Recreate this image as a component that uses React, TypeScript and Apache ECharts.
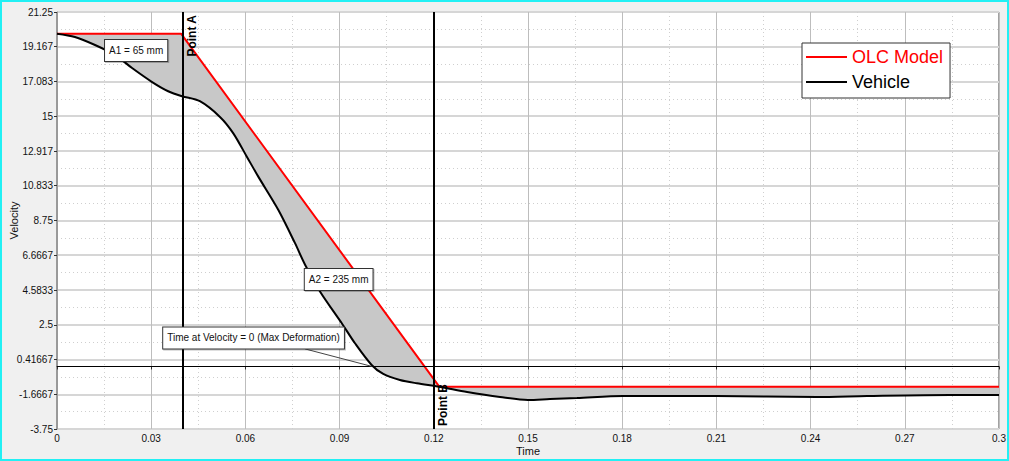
import React, { useEffect, useRef } from "react";
import * as echarts from "echarts";

// ---- data ----
const olcTime = [0, 0.0395, 0.1218, 0.3];
const olcVelocity = [19.95, 19.95, -1.22, -1.22];

const vehicleTime = [
  0, 0.0057, 0.0121, 0.0185, 0.0239, 0.0303, 0.0354, 0.0398, 0.0455, 0.0519,
  0.0561, 0.0605, 0.0641, 0.0705, 0.0758, 0.079, 0.0838, 0.0907, 0.0949,
  0.1002, 0.1039, 0.1092, 0.1146, 0.1218, 0.1306, 0.1411, 0.15, 0.157, 0.1656,
  0.1803, 0.21, 0.242, 0.258, 0.2844, 0.3,
];
const vehicleVelocity = [
  19.95, 19.75, 19.27, 18.67, 17.89, 17.05, 16.5, 16.2, 15.9, 14.96, 13.99,
  12.56, 11.38, 9.38, 7.39, 6.1, 4.48, 2.59, 1.39, 0.09, -0.45, -0.81, -1.01,
  -1.22, -1.53, -1.83, -2.01, -1.95, -1.89, -1.77, -1.77, -1.83, -1.77, -1.71,
  -1.71,
];

const xTickLabels = ["0", "0.03", "0.06", "0.09", "0.12", "0.15", "0.18", "0.21", "0.24", "0.27", "0.3"];
const yTickLabels = [
  "-3.75", "-1.6667", "0.41667", "2.5", "4.5833", "6.6667", "8.75", "10.833",
  "12.917", "15", "17.083", "19.167", "21.25",
];
const yMin = -3.75;
const yMax = 21.25;
const yInterval = 25 / 12;
const xMin = 0;
const xMax = 0.3;
const xInterval = 0.03;

const markerTimes = [0.0395, 0.1218];
const markerLabels = ["Point A", "Point B"];
const zeroVelocity = 0;

const annotationTexts = ["A1 = 65 mm", "A2 = 235 mm", "Time at Velocity = 0 (Max Deformation)"];
const annotationTimes = [0.0252, 0.0897, 0.0626];
const annotationVelocities = [18.94, 5.21, 1.71];
const connectorTimes = [0.079, 0.1003];
const connectorVelocities = [1.05, 0.0];

export default function App() {
  const ref = useRef<HTMLDivElement>(null);

  useEffect(() => {
    if (!ref.current) return;
    const chart = echarts.init(ref.current, null, { renderer: "svg" });

    const olcData = olcTime.map((t, i) => [t, olcVelocity[i]]);
    const vehicleData = vehicleTime.map((t, i) => [t, vehicleVelocity[i]]);
    const polygon = [...olcData, ...vehicleData.slice().reverse()];

    const font = "'Liberation Sans', Arial, sans-serif";

    const option: any = {
      animation: false,
      backgroundColor: "#f0f0f0",
      textStyle: { fontFamily: font },
      graphic: [
        {
          type: "rect",
          z: 100,
          silent: true,
          shape: { x: 1, y: 1, width: 1007, height: 459 },
          style: { fill: "none", stroke: "#22f0f4", lineWidth: 2 },
        },
      ],
      grid: {
        left: 57,
        top: 12,
        right: 10,
        bottom: 32,
        containLabel: false,
        outerBoundsMode: "none",
        show: true,
        backgroundColor: "#ffffff",
        borderColor: "#444",
        borderWidth: 1,
      },
      legend: {
        orient: "vertical",
        left: 802,
        top: 43,
        backgroundColor: "#ffffff",
        borderColor: "#333",
        borderWidth: 1,
        padding: [5, 7, 7, 4],
        itemGap: 7,
        itemWidth: 41,
        itemHeight: 2,
        icon: "rect",
        textStyle: { fontSize: 18, fontFamily: font, padding: [0, 0, 0, 0] },
        data: [
          { name: "OLC Model", textStyle: { color: "#ff0000" } },
          { name: "Vehicle", textStyle: { color: "#000000" } },
        ],
      },
      xAxis: {
        type: "value",
        min: xMin,
        max: xMax,
        interval: xInterval,
        name: "Time",
        nameLocation: "middle",
        nameGap: 16,
        nameMoveOverlap: false,
        nameTextStyle: { color: "#111", fontSize: 11, fontFamily: font },
        axisLine: { show: true, lineStyle: { color: "#333", width: 1 } },
        axisTick: { show: true, length: 3, lineStyle: { color: "#333" } },
        axisLabel: {
          color: "#111",
          fontSize: 10,
          margin: 4,
          fontFamily: font,
          formatter: (v: number) => xTickLabels[Math.round((v - xMin) / xInterval)] ?? "",
        },
        splitLine: { show: true, lineStyle: { color: "#bdbdbd", width: 1 } },
        minorTick: { show: false, splitNumber: 2 },
        minorSplitLine: { show: true, lineStyle: { color: "#cfcfcf", type: [1, 3], width: 1 } },
      },
      yAxis: {
        type: "value",
        min: yMin,
        max: yMax,
        interval: yInterval,
        name: "Velocity",
        nameLocation: "middle",
        nameGap: 38,
        nameMoveOverlap: false,
        nameTextStyle: { color: "#111", fontSize: 11, fontFamily: font },
        axisLine: { show: true, lineStyle: { color: "#999", width: 1 } },
        axisTick: { show: true, length: 3, lineStyle: { color: "#333" } },
        axisLabel: {
          color: "#111",
          fontSize: 10,
          margin: 4,
          fontFamily: font,
          formatter: (v: number) => yTickLabels[Math.round((v - yMin) / yInterval)] ?? "",
        },
        splitLine: { show: true, lineStyle: { color: "#d6d6d6", width: 2 } },
        minorTick: { show: false, splitNumber: 2 },
        minorSplitLine: { show: true, lineStyle: { color: "#cfcfcf", type: [1, 3], width: 1 } },
      },
      series: [
        {
          type: "custom",
          name: "fill",
          silent: true,
          z: 1,
          clip: true,
          data: [[olcTime[0], olcVelocity[0]]],
          encode: { x: 0, y: 1 },
          renderItem: (_params: any, api: any) => ({
            type: "polygon",
            shape: { points: polygon.map((p) => api.coord(p)) },
            style: { fill: "#c8c8c8", stroke: "none" },
          }),
        },
        {
          type: "line",
          name: "OLC Model",
          z: 3,
          data: olcData,
          symbol: "none",
          lineStyle: { color: "#ff0000", width: 2 },
          itemStyle: { color: "#ff0000" },
        },
        {
          type: "line",
          name: "Vehicle",
          z: 4,
          data: vehicleData,
          symbol: "none",
          smooth: 0.3,
          lineStyle: { color: "#000000", width: 2 },
          itemStyle: { color: "#000000" },
          markLine: {
            symbol: "none",
            silent: true,
            data: [
              {
                xAxis: markerTimes[0],
                lineStyle: { color: "#000", width: 2, type: "solid" },
                label: {
                  show: true,
                  formatter: markerLabels[0],
                  position: "insideEndBottom",
                  distance: 3,
                  color: "#000",
                  fontWeight: "bold",
                  fontSize: 12,
                  fontFamily: font,
                },
              },
              {
                xAxis: markerTimes[1],
                lineStyle: { color: "#000", width: 2, type: "solid" },
                label: {
                  show: true,
                  formatter: markerLabels[1],
                  position: "insideStartBottom",
                  distance: 3,
                  color: "#000",
                  fontWeight: "bold",
                  fontSize: 12,
                  fontFamily: font,
                },
              },
              {
                yAxis: zeroVelocity,
                lineStyle: { color: "#000", width: 1, type: "solid" },
                label: { show: false },
              },
              [
                {
                  coord: [connectorTimes[0], connectorVelocities[0]],
                  lineStyle: { color: "#444", width: 1, type: "solid" },
                  label: { show: false },
                },
                { coord: [connectorTimes[1], connectorVelocities[1]] },
              ],
            ],
          },
          markPoint: {
            symbol: "rect",
            symbolSize: 1,
            silent: true,
            itemStyle: { color: "rgba(0,0,0,0)" },
            label: {
              show: true,
              position: "inside",
              color: "#111",
              fontSize: 10,
              fontFamily: font,
              backgroundColor: "#ffffff",
              borderColor: "#333",
              borderWidth: 1,
              padding: [6, 4, 5, 4],
              shadowColor: "rgba(0,0,0,0.25)",
              shadowOffsetX: 1,
              shadowOffsetY: 1,
              shadowBlur: 1,
            },
            data: annotationTexts.map((txt, i) => ({
              coord: [annotationTimes[i], annotationVelocities[i]],
              label: { formatter: txt },
            })),
          },
        },
      ],
    };

    chart.setOption(option);
    return () => chart.dispose();
  }, []);

  return (
    <div
      ref={ref}
      style={{ position: "fixed", left: 0, top: 0, width: 1009, height: 461 }}
    />
  );
}
